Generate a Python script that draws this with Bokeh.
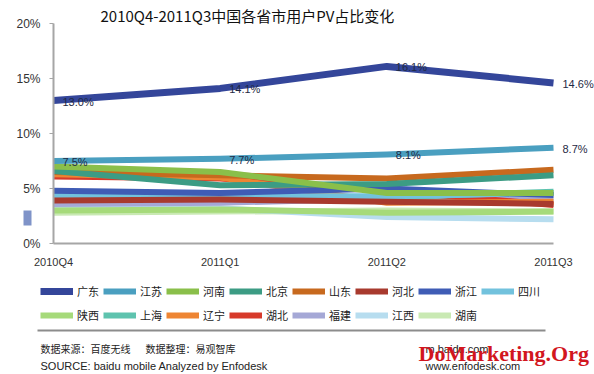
from bokeh.plotting import figure
from bokeh.models import (ColumnDataSource, FixedTicker, PrintfTickFormatter, Legend,
                          LegendItem, Label, LabelSet, BoxAnnotation)
from bokeh.core.properties import value
from bokeh.embed import file_html
from bokeh.resources import INLINE

# ---------------- data ----------------
quarters = ["2010Q4", "2011Q1", "2011Q2", "2011Q3"]
provinces = ["广东", "江苏", "河南", "北京", "山东", "河北", "浙江", "四川",
             "陕西", "上海", "辽宁", "湖北", "福建", "江西", "湖南"]

guangdong = [13.0, 14.1, 16.1, 14.6]
jiangsu = [7.5, 7.7, 8.1, 8.7]
henan = [7.0, 6.5, 4.6, 4.6]
beijing = [6.6, 5.3, 5.4, 6.2]
shandong = [6.5, 6.2, 5.9, 6.7]
hebei = [3.9, 4.0, 3.8, 3.6]
zhejiang = [4.8, 4.6, 5.0, 4.4]
sichuan = [4.4, 4.3, 4.3, 4.6]
shaanxi = [3.0, 3.1, 2.8, 2.9]
shanghai = [4.2, 4.1, 4.2, 4.7]
liaoning = [6.3, 6.0, 3.7, 3.8]
hubei = [6.1, 5.9, 4.8, 3.5]
fujian = [3.6, 3.7, 4.1, 4.1]
jiangxi = [3.3, 3.2, 2.4, 2.2]
hunan = [2.8, 2.9, 3.0, 2.9]

series = [guangdong, jiangsu, henan, beijing, shandong, hebei, zhejiang, sichuan,
          shaanxi, shanghai, liaoning, hubei, fujian, jiangxi, hunan]

colors = ["#34469A", "#4A9FC0", "#8ABF4A", "#3C9C84", "#C7691E", "#A83A2E", "#3F5CB5",
          "#72C2DD", "#A6DA7A", "#5EC3AE", "#EE8533", "#D73A2A", "#A5A8D6", "#B7DDEF",
          "#C9E9B3"]

labelled = [0, 1]  # 广东, 江苏 carry data labels

title_text = "2010Q4-2011Q3中国各省市用户PV占比变化"
source_cn_1 = "数据来源：百度无线"
source_cn_2 = "数据整理：易观智库"
source_en = "SOURCE: baidu mobile Analyzed by Enfodesk"
site_1 = "m.baidu.com"
site_2 = "www.enfodesk.com"
watermark = "DoMarketing.Org"

# ---------------- layout helpers (page pixels -> data space) ----------------
X0, XW = 53.0, 500.0 / 3   # x of first quarter, px per quarter
Y0, YW = 243.0, 11.0       # y of 0%, px per 1%

def px(xp):
    return (xp - X0) / XW

def py(yp):
    return (Y0 - yp) / YW

W, H = 594, 374
x_idx = list(range(len(quarters)))

p = figure(width=W, height=H, x_range=(px(0), px(W)), y_range=(py(H), py(0)),
           output_backend="svg", toolbar_location=None, min_border=0)
p.outline_line_color = None
p.xgrid.visible = False
p.ygrid.visible = False
p.background_fill_color = "white"
p.border_fill_color = "white"

AX = "#A6A6A6"
p.yaxis.fixed_location = 0
p.yaxis.bounds = (0, 20)
p.yaxis.ticker = FixedTicker(ticks=[0, 5, 10, 15, 20])
p.yaxis.formatter = PrintfTickFormatter(format="%d%%")
p.yaxis.axis_line_color = AX
p.yaxis.axis_line_width = 2
p.yaxis.major_tick_line_color = AX
p.yaxis.major_tick_out = 4
p.yaxis.major_tick_in = 0
p.yaxis.minor_tick_line_color = None
p.yaxis.major_label_standoff = 9
p.yaxis.major_label_text_font = "Liberation Sans"
p.yaxis.major_label_text_font_size = "12px"
p.yaxis.major_label_text_color = "#333333"

p.xaxis.fixed_location = 0
p.xaxis.bounds = (0, 3)
p.xaxis.ticker = FixedTicker(ticks=x_idx)
p.xaxis.major_label_overrides = {i: q for i, q in enumerate(quarters)}
p.xaxis.axis_line_color = AX
p.xaxis.axis_line_width = 2
p.xaxis.major_tick_line_color = None
p.xaxis.minor_tick_line_color = None
p.xaxis.major_label_standoff = 6
p.xaxis.major_label_text_font = "Liberation Sans"
p.xaxis.major_label_text_font_size = "11px"
p.xaxis.major_label_text_color = "#333333"

renderers = {}
for i in reversed(range(len(provinces))):
    w = 7 if i == 0 else 6
    r = p.line(x=x_idx, y=series[i], line_width=w, line_color=colors[i],
               line_cap="butt", line_join="round")
    renderers[i] = r

items = [LegendItem(label=provinces[i], renderers=[renderers[i]]) for i in range(len(provinces))]
legend = Legend(items=items, orientation="horizontal", ncols=8,
                location=(40, H - 325), glyph_width=33, glyph_height=20,
                label_width=20, label_height=20, label_standoff=4, spacing=4,
                padding=0, margin=0, border_line_color=None,
                background_fill_alpha=0,
                label_text_font="Noto Sans CJK SC", label_text_font_size="11px",
                label_text_color="#222222")
p.add_layout(legend)

# data labels
lx, ly, lt = [], [], []
for i in labelled:
    for j, v in enumerate(series[i]):
        lx.append(x_idx[j])
        ly.append(v)
        lt.append(f"{v:.1f}%")
lab_src = ColumnDataSource(dict(x=lx, y=ly, text=lt))
p.add_layout(LabelSet(x="x", y="y", text="text", source=lab_src, x_offset=9, y_offset=-1,
                      text_baseline="middle", text_font=value("Liberation Sans"),
                      text_font_size="11px", text_color="#1F2A44"))

# title
p.add_layout(Label(x=px(100), y=py(15), text=title_text, text_baseline="middle",
                   text_font="Noto Sans CJK SC", text_font_size="15px",
                   text_color="#111111"))

# stray legend patch left of axis
p.add_layout(BoxAnnotation(left=px(23), right=px(31), top=py(210), bottom=py(225),
                           fill_color="#7F93C8", fill_alpha=1, line_color=None))

# separator
p.add_layout(BoxAnnotation(left=px(37), right=px(545), top=py(329), bottom=py(331),
                           fill_color="#8C8C8C", fill_alpha=1, line_color=None))

# source texts
for xp, yp, t, f, s in [(40, 348, source_cn_1, "Noto Sans CJK SC", "10px"),
                        (145, 348, source_cn_2, "Noto Sans CJK SC", "10px"),
                        (40, 365, source_en, "Liberation Sans", "11px"),
                        (425, 348, site_1, "Liberation Sans", "11px"),
                        (425, 365, site_2, "Liberation Sans", "11px")]:
    p.add_layout(Label(x=px(xp), y=py(yp), text=t, text_baseline="middle",
                       text_font=f, text_font_size=s, text_color="#222222"))

p.add_layout(Label(x=px(418), y=py(353), text=watermark, text_baseline="middle",
                   text_font="Liberation Serif", text_font_style="bold",
                   text_font_size="22px", text_color="#D2161E"))

open("out.html", "w").write(file_html(p, INLINE))
